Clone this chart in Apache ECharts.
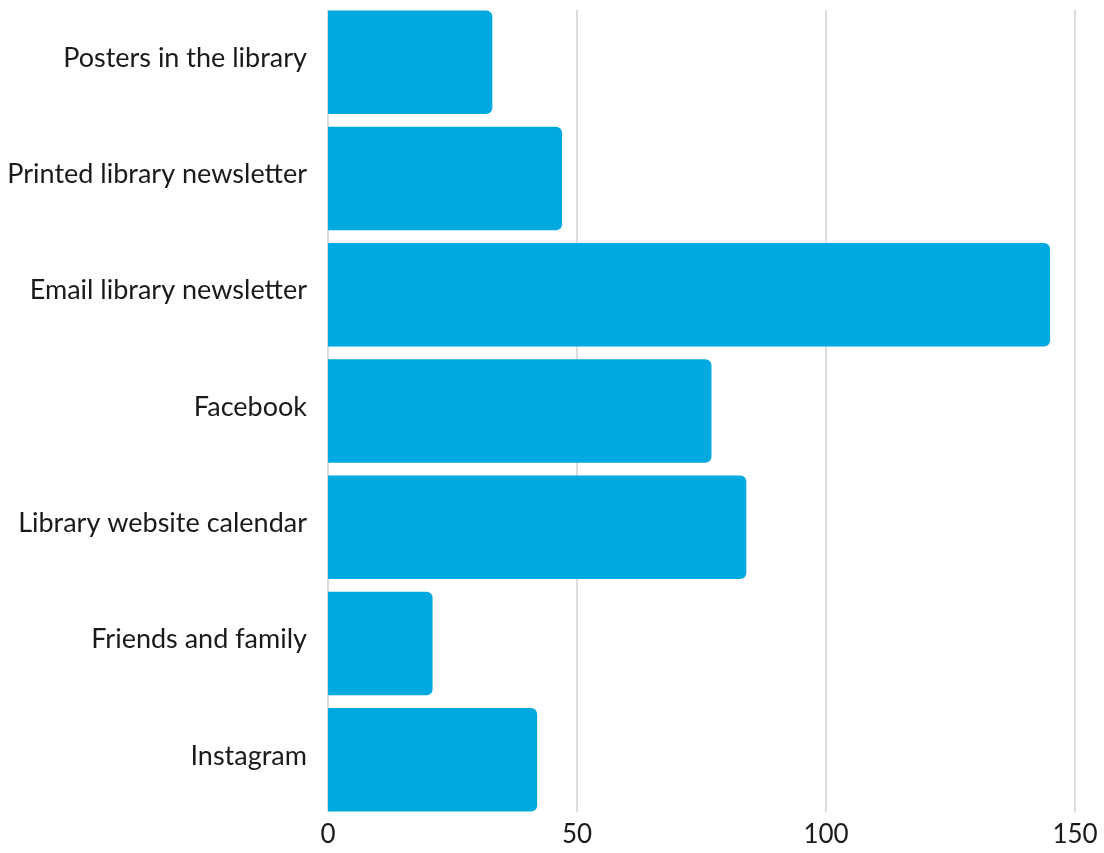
<!DOCTYPE html>
<html><head><meta charset="utf-8">
<script src="https://cdn.jsdelivr.net/npm/echarts@6/dist/echarts.min.js"></script>
<style>html,body{margin:0;padding:0;background:#fff}#c{width:1104px;height:853px}</style>
</head><body><div id="c"></div>
<script>
const categories = ["Posters in the library","Printed library newsletter","Email library newsletter","Facebook","Library website calendar","Friends and family","Instagram"];
const values = [33, 47, 145, 77, 84, 21, 42];
const xTicks = [0, 50, 100, 150];

const chart = echarts.init(document.getElementById('c'), null, {renderer:'canvas'});
const font = 'Lato, "Noto Sans", sans-serif';
chart.setOption({
  animation:false,
  grid:[
    {left:328, right:29, top:4, bottom:35, containLabel:false},
    {left:328, right:29, top:10, bottom:41, containLabel:false}
  ],
  xAxis:[
    {gridIndex:0, type:'value', min:0, max:150, interval:50, show:false},
    {gridIndex:1, type:'value', min:0, max:150, interval:50,
     axisLine:{show:false}, axisTick:{show:false},
     axisLabel:{fontFamily:font, fontSize:26, color:'#1a1a1a', margin:10,
       formatter:v=>xTicks.includes(v)?String(v):''},
     splitLine:{show:true, lineStyle:{color:'#d0d0d0', width:1.5}}}
  ],
  yAxis:[
    {gridIndex:0, type:'category', data:categories, inverse:true,
     axisLine:{show:false}, axisTick:{show:false},
     axisLabel:{fontFamily:font, fontSize:27, color:'#1a1a1a', margin:21,
       formatter:v=>'{a|'+v+'}',
       rich:{a:{fontFamily:font, fontSize:27, color:'#1a1a1a', padding:[0,0,8,0]}}}},
    {gridIndex:1, type:'value', show:false, min:0, max:1}
  ],
  series:[{
    type:'bar', xAxisIndex:0, yAxisIndex:0, data:values,
    barCategoryGap:'11%',
    itemStyle:{color:'#00a9e0', borderRadius:[0,6,6,0]},
    z:3
  }]
});
</script></body></html>
